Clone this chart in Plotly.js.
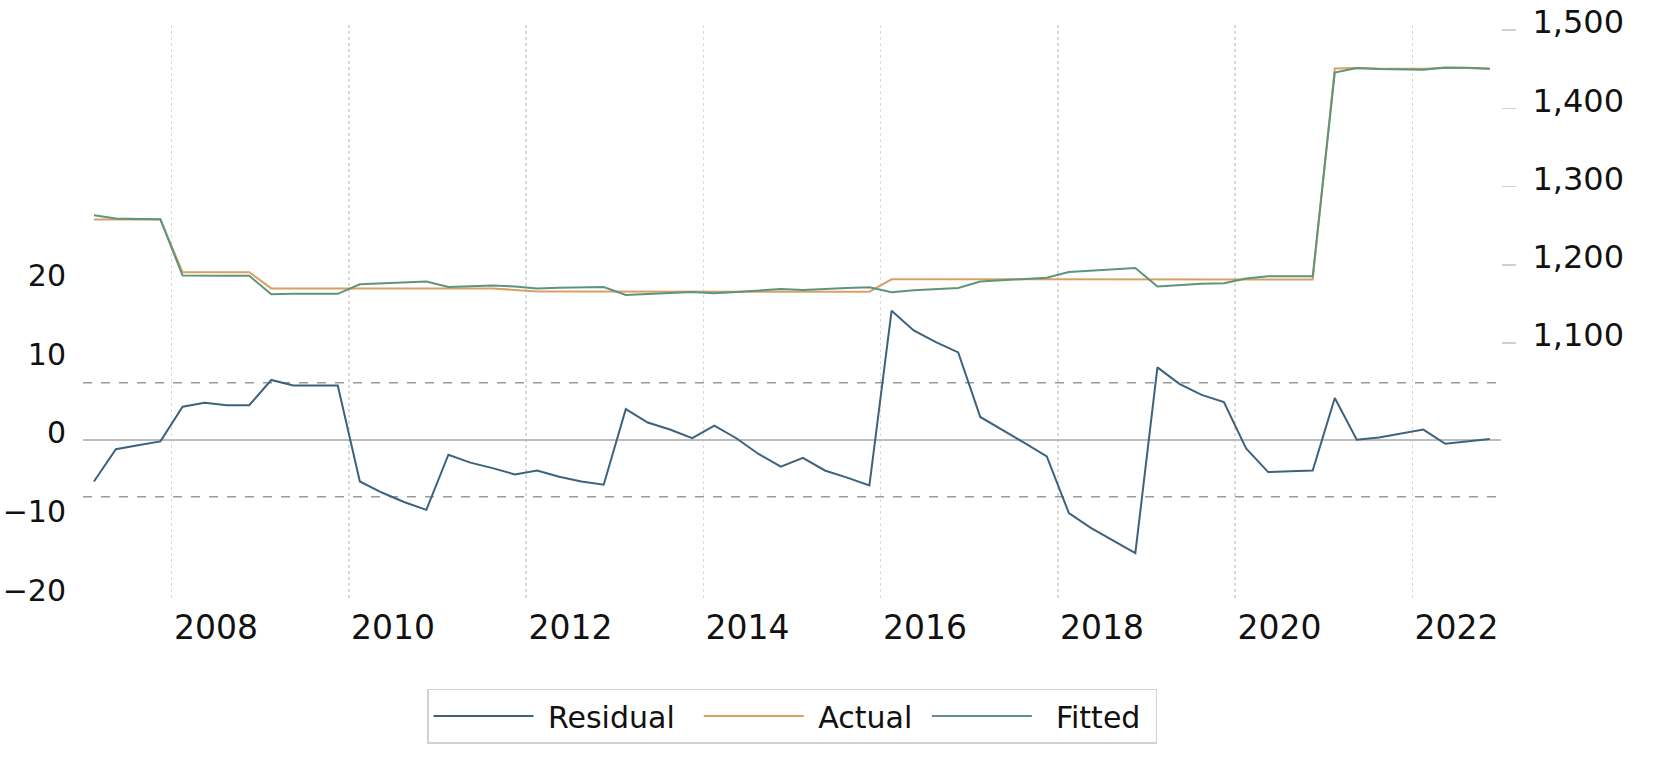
<!DOCTYPE html>
<html>
<head>
<meta charset="utf-8">
<script src="https://cdn.plot.ly/plotly-3.0.1.min.js"></script>
<style>
  html, body { margin: 0; padding: 0; background: #fff; }
  #chart { width: 1665px; height: 758px; }
</style>
</head>
<body>
<div id="chart"></div>
<script>
// quarterly sample 2007Q1 - 2022Q4
const quarters = [];
for (let y = 2007; y <= 2022; y++) {
  for (const m of ["01", "04", "07", "10"]) quarters.push(y + "-" + m + "-01");
}

const residual = [
  -5.3, -1.2, -0.7, -0.2,   4.2, 4.7, 4.4, 4.4,
  7.6, 6.9, 6.9, 6.9,       -5.3, -6.7, -7.9, -8.9,
  -1.9, -2.9, -3.6, -4.4,   -3.9, -4.7, -5.3, -5.7,
  3.9, 2.2, 1.3, 0.2,       1.8, 0.2, -1.8, -3.4,
  -2.3, -3.9, -4.8, -5.8,   16.4, 13.9, 12.4, 11.1,
  2.9, 1.3, -0.4, -2.1,     -9.3, -11.2, -12.8, -14.4,
  9.2, 7.1, 5.7, 4.8,       -1.1, -4.1, -4.0, -3.9,
  5.3, 0.0, 0.3, 0.8,       1.3, -0.5, -0.2, 0.1
];

const actual = [
  1258.0, 1258.0, 1258.0, 1258.0,   1190.6, 1190.6, 1190.6, 1190.6,
  1170.0, 1170.0, 1170.0, 1170.0,   1170.0, 1170.0, 1170.0, 1170.0,
  1170.0, 1170.0, 1170.0, 1168.0,   1166.0, 1166.0, 1166.0, 1166.0,
  1165.5, 1165.5, 1165.5, 1165.5,   1165.5, 1165.5, 1165.8, 1165.8,
  1165.8, 1165.8, 1165.8, 1165.8,   1181.6, 1181.6, 1181.6, 1181.6,
  1181.6, 1181.6, 1181.6, 1181.6,   1181.6, 1181.6, 1181.6, 1181.6,
  1181.5, 1181.5, 1181.5, 1181.5,   1181.5, 1181.5, 1181.5, 1181.5,
  1451.0, 1451.5, 1450.5, 1450.5,   1450.5, 1451.5, 1451.5, 1450.5
];

const fitted = [
  1263.3, 1259.2, 1258.7, 1258.2,   1186.4, 1185.9, 1186.2, 1186.2,
  1162.4, 1163.1, 1163.1, 1163.1,   1175.3, 1176.7, 1177.9, 1178.9,
  1171.9, 1172.9, 1173.6, 1172.4,   1169.9, 1170.7, 1171.3, 1171.7,
  1161.6, 1163.3, 1164.2, 1165.3,   1163.7, 1165.3, 1167.6, 1169.2,
  1168.1, 1169.7, 1170.6, 1171.6,   1165.2, 1167.7, 1169.2, 1170.5,
  1178.7, 1180.3, 1182.0, 1183.7,   1190.9, 1192.8, 1194.4, 1196.0,
  1172.3, 1174.4, 1175.8, 1176.7,   1182.6, 1185.6, 1185.5, 1185.4,
  1445.7, 1451.5, 1450.2, 1449.7,   1449.2, 1452.0, 1451.7, 1450.4
];

// regression standard error band on the residual axis
const residualBand = 7.24;

const labelYears = ["2008", "2010", "2012", "2014", "2016", "2018", "2020", "2022"];
const leftTicks = [-20, -10, 0, 10, 20];
const rightTicks = [1100, 1200, 1300, 1400, 1500];

const common = { x: quarters, xperiod: "M3", xperiodalignment: "middle", mode: "lines", type: "scatter" };
const pad = "\u00a0";

const data = [
  Object.assign({}, common, { name: pad + "Residual" + pad + pad, y: residual, yaxis: "y",
    line: { color: "#3c627e", width: 2 } }),
  Object.assign({}, common, { name: pad + "Actual" + pad, y: actual, yaxis: "y2",
    line: { color: "#d9a066", width: 2 } }),
  Object.assign({}, common, { name: pad + pad + "Fitted" + pad, y: fitted, yaxis: "y2",
    line: { color: "#5e9479", width: 2 } })
];

const layout = {
  width: 1665,
  height: 758,
  margin: { l: 83, r: 164, t: 25, b: 160 },
  paper_bgcolor: "#fff",
  plot_bgcolor: "#fff",
  font: { family: "DejaVu Sans", color: "#111", size: 30 },
  showlegend: true,
  xaxis: {
    type: "date",
    range: ["2007-01-01", "2023-01-01"],
    tickmode: "array",
    tickvals: labelYears.map(y => y + "-07-02"),
    ticktext: labelYears,
    tickfont: { size: 33 },
    ticks: "",
    ticklabelstandoff: 7,
    showgrid: false,
    zeroline: false,
    showline: false,
    minor: {
      tickmode: "array",
      tickvals: labelYears.map(y => y + "-01-01"),
      showgrid: true,
      gridcolor: "#d9d9d9",
      gridwidth: 1.5,
      griddash: "dot",
      ticks: ""
    }
  },
  yaxis: {
    range: [-20.1, 52.7],
    tickmode: "array",
    tickvals: leftTicks,
    tickfont: { size: 30 },
    ticks: "",
    ticklabelstandoff: 16,
    ticklabelshift: -7,
    showgrid: false,
    zeroline: true,
    zerolinecolor: "#bcbcbc",
    zerolinewidth: 2,
    showline: false
  },
  yaxis2: {
    overlaying: "y",
    side: "right",
    range: [774.6, 1506.4],
    tickmode: "array",
    tickvals: rightTicks,
    tickformat: ",",
    tickfont: { size: 32 },
    ticks: "outside",
    ticklen: 14,
    tickwidth: 1.5,
    tickcolor: "#cfcfcf",
    ticklabelstandoff: 10,
    ticklabelshift: -8,
    showgrid: false,
    zeroline: false,
    showline: false
  },
  shapes: [residualBand, -residualBand].map(v => ({
    type: "line", xref: "paper", x0: 0, x1: 1, yref: "y", y0: v, y1: v,
    layer: "below",
    line: { color: "#9a9a9a", width: 1.5, dash: "dash" }
  })),
  legend: {
    orientation: "h",
    x: 0.5,
    xanchor: "center",
    y: -0.158,
    yanchor: "top",
    bgcolor: "#fff",
    bordercolor: "#d2d2d2",
    borderwidth: 1.5,
    font: { size: 30 },
    itemwidth: 100,
    traceorder: "normal"
  }
};

Plotly.newPlot("chart", data, layout, { staticPlot: true });
</script>
</body>
</html>
